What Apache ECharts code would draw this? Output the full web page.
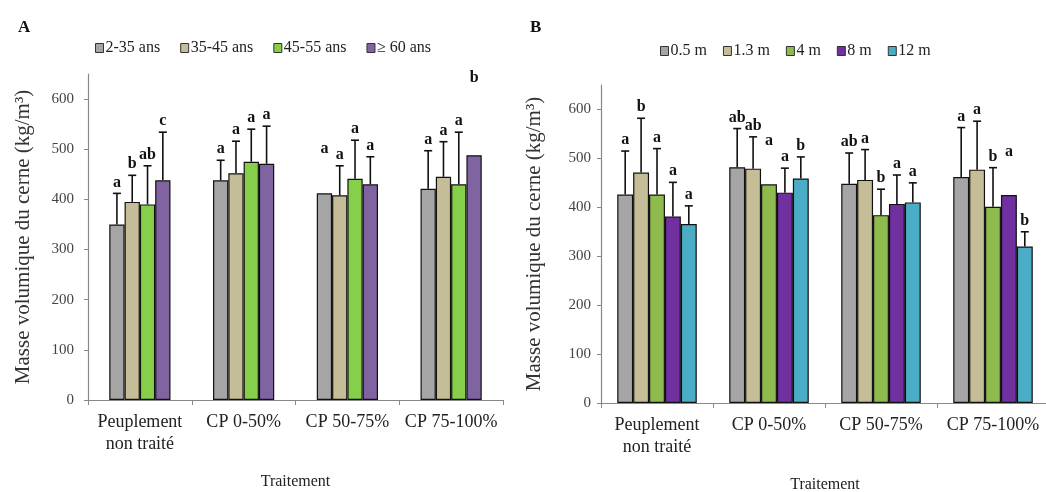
<!DOCTYPE html>
<html><head><meta charset="utf-8">
<script src="https://cdn.jsdelivr.net/npm/echarts@6/dist/echarts.min.js"></script>
<style>html,body{margin:0;padding:0;background:#fff}#c{width:1046px;height:492px}</style>
</head><body><div id="c"></div>
<script>
// ---------- DATA ----------
const categories = ['Peuplement\nnon traité', 'CP 0-50%', 'CP 50-75%', 'CP 75-100%'];
const yTicks = [0, 100, 200, 300, 400, 500, 600];

// Panel A (age classes)
const namesA = ['2-35 ans', '35-45 ans', '45-55 ans', '≥ 60 ans'];
const valsA_2_35   = [350, 438, 412, 421];
const valsA_35_45  = [395, 452, 408, 445];
const valsA_45_55  = [390, 475, 441, 430];
const valsA_60     = [438, 471, 430, 488];
const errA_2_35    = [62, 40, null, 76];
const errA_35_45   = [53, 64, 59, 70];
const errA_45_55   = [77, 65, 77, 104];
const errA_60      = [96, 75, 55, null];
const letA_2_35    = ['a', 'a', 'a', 'a'];
const letA_35_45   = ['b', 'a', 'a', 'a'];
const letA_45_55   = ['ab', 'a', 'a', 'a'];
const letA_60      = ['c', 'a', 'a', 'b'];
const letPosA_2_35 = [null, null, 484, null];
const letPosA_60   = [null, null, null, 627];

// Panel B (heights)
const namesB = ['0.5 m', '1.3 m', '4 m', '8 m', '12 m'];
const valsB_05  = [426, 482, 448, 462];
const valsB_13  = [471, 479, 456, 477];
const valsB_4   = [426, 447, 384, 401];
const valsB_8   = [381, 430, 407, 425];
const valsB_12  = [366, 459, 410, 320];
const errB_05   = [89, 79, 63, 101];
const errB_13   = [111, 65, 62, 99];
const errB_4    = [94, null, 53, 80];
const errB_8    = [70, 50, 59, null];
const errB_12   = [37, 44, 40, 30];
const letB_05   = ['a', 'ab', 'ab', 'a'];
const letB_13   = ['b', 'ab', 'a', 'a'];
const letB_4    = ['a', 'a', 'b', 'b'];
const letB_8    = ['a', 'a', 'a', 'a'];
const letB_12   = ['a', 'b', 'a', 'b'];
const letPosB_4 = [null, 520, null, null];
const letPosB_8 = [null, null, null, 496];

// ---------- STYLE ----------
const colorsA = ['#a5a5a5', '#c4bd97', '#86cf4a', '#8064a2'];
const colorsB = ['#a5a5a5', '#c4bd97', '#8fba4e', '#7030a0', '#4bacc6'];
const serif = '"Liberation Serif", "DejaVu Serif", serif';
const gapA = 0.41, gapB = 0.29;

const seriesA = [
  {vals: valsA_2_35, err: errA_2_35, let: letA_2_35, pos: letPosA_2_35},
  {vals: valsA_35_45, err: errA_35_45, let: letA_35_45, pos: null},
  {vals: valsA_45_55, err: errA_45_55, let: letA_45_55, pos: null},
  {vals: valsA_60, err: errA_60, let: letA_60, pos: letPosA_60}
];
const seriesB = [
  {vals: valsB_05, err: errB_05, let: letB_05, pos: null},
  {vals: valsB_13, err: errB_13, let: letB_13, pos: null},
  {vals: valsB_4, err: errB_4, let: letB_4, pos: letPosB_4},
  {vals: valsB_8, err: errB_8, let: letB_8, pos: letPosB_8},
  {vals: valsB_12, err: errB_12, let: letB_12, pos: null}
];

function barSeries(name, vals, color, axis, gap) {
  return {
    name, type: 'bar', data: vals, xAxisIndex: axis, yAxisIndex: axis,
    barGap: '0%', barCategoryGap: (gap * 100) + '%',
    itemStyle: {color, borderColor: '#111', borderWidth: 1.2},
    z: 2
  };
}

function errSeries(s, idx, n, axis, gap) {
  return {
    type: 'custom', xAxisIndex: axis, yAxisIndex: axis, z: 6, silent: true,
    data: s.vals.map((v, k) => [k, v, s.err[k] == null ? v : v + s.err[k]]),
    renderItem(params, api) {
      const k = params.dataIndex;
      const v = api.value(1), top = api.value(2);
      const base = api.coord([k, v]);
      const band = api.size([1, 0])[0];
      const bw = band * (1 - gap) / n;
      const x = base[0] + (idx - (n - 1) / 2) * bw;
      const yTop = api.coord([k, top])[1];
      const children = [];
      if (top > v) {
        children.push({type: 'line', shape: {x1: x, y1: base[1], x2: x, y2: yTop}, style: {stroke: '#111', lineWidth: 1.6}});
        children.push({type: 'line', shape: {x1: x - 4, y1: yTop, x2: x + 4, y2: yTop}, style: {stroke: '#111', lineWidth: 1.6}});
      }
      const ly = (s.pos && s.pos[k] != null) ? api.coord([k, s.pos[k]])[1] : yTop - 3;
      children.push({type: 'text', x: x, y: ly, style: {
        text: s.let[k], fill: '#111', font: 'bold 16px ' + serif, textAlign: 'center', textVerticalAlign: 'bottom'
      }});
      return {type: 'group', children};
    }
  };
}

function yAxis(grid, gap, margin) {
  return {
    type: 'value', gridIndex: grid, min: 0, max: 650, interval: 100,
    name: 'Masse volumique du cerne (kg/m³)', nameLocation: 'middle', nameGap: gap, nameRotate: 90,
    nameTextStyle: {fontFamily: serif, fontSize: 21, color: '#333'},
    axisLine: {show: true, lineStyle: {color: '#888', width: 1.2}},
    axisTick: {show: true, length: 4, lineStyle: {color: '#888'}},
    axisLabel: {fontFamily: serif, fontSize: 15, color: '#444', showMaxLabel: false, margin,
      formatter: v => (yTicks.indexOf(v) >= 0 ? String(v) : '')},
    splitLine: {show: false}
  };
}
function xAxis(grid) {
  return {
    type: 'category', gridIndex: grid, data: categories,
    name: 'Traitement', nameLocation: 'middle', nameGap: 74,
    nameTextStyle: {fontFamily: serif, fontSize: 16, color: '#222'},
    axisLine: {lineStyle: {color: '#888', width: 1.2}},
    axisTick: {show: true, length: 5, lineStyle: {color: '#888'}},
    axisLabel: {fontFamily: serif, fontSize: 18, color: '#222', margin: 11, lineHeight: 22, interval: 0}
  };
}

const series = [];
seriesA.forEach((s, i) => series.push(barSeries(namesA[i], s.vals, colorsA[i], 0, gapA)));
seriesB.forEach((s, i) => series.push(barSeries(namesB[i], s.vals, colorsB[i], 1, gapB)));
seriesA.forEach((s, i) => series.push(errSeries(s, i, seriesA.length, 0, gapA)));
seriesB.forEach((s, i) => series.push(errSeries(s, i, seriesB.length, 1, gapB)));

function legend(data, left, top, gap) {
  return {
    data, left, top, icon: 'rect', itemWidth: 8, itemHeight: 9, itemGap: gap,
    itemStyle: {borderColor: '#333', borderWidth: 1},
    textStyle: {fontFamily: serif, fontSize: 16, color: '#222', padding: [0, 0, 0, -3]}
  };
}

const chart = echarts.init(document.getElementById('c'), null, {renderer: 'canvas'});
chart.setOption({
  animation: false,
  backgroundColor: '#fff',
  graphic: [
    {type: 'text', left: 18, top: 19, style: {text: 'A', font: 'bold 17px ' + serif, fill: '#111'}},
    {type: 'text', left: 530, top: 19, style: {text: 'B', font: 'bold 17px ' + serif, fill: '#111'}}
  ],
  legend: [
    legend(namesA, 90, 35, 20),
    legend(namesB, 655, 38, 16)
  ],
  grid: [
    {left: 88, right: 543, top: 74, bottom: 92, outerBoundsMode: 'none', containLabel: false},
    {left: 601, right: -3, top: 85, bottom: 89, outerBoundsMode: 'none', containLabel: false}
  ],
  xAxis: [xAxis(0), xAxis(1)],
  yAxis: [yAxis(0, 54, 14), yAxis(1, 56, 10)],
  series
});
</script></body></html>
